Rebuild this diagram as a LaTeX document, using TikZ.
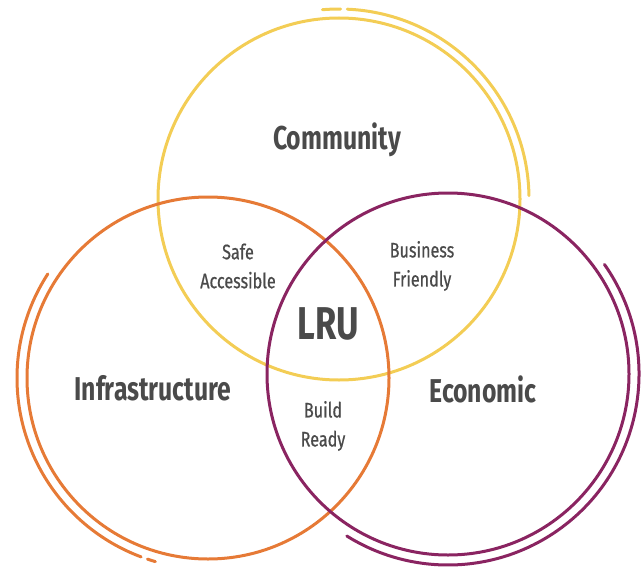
\documentclass[tikz,border=0pt]{standalone}
\usepackage{fontspec}
\setmainfont[FakeStretch=0.75]{Fira Sans}
\newfontfamily\overlapfont[FakeStretch=0.77,FakeBold=0.6]{Fira Sans}
\definecolor{commcol}{HTML}{F3CD55}
\definecolor{infracol}{HTML}{E67A36}
\definecolor{econcol}{HTML}{8A2461}
\definecolor{textcol}{HTML}{4A4A4A}
\tikzset{
  ring/.style={line width=3pt},
  outring/.style={line width=3pt,line cap=round},
  title/.style={text=textcol,font=\bfseries\fontsize{33}{36}\selectfont},
  overlap/.style={text=textcol,align=center,font=\overlapfont\fontsize{21}{29}\selectfont},
}
\begin{document}
\begin{tikzpicture}[x=1pt,y=1pt]
\useasboundingbox (0,0) rectangle (644,566);
\coordinate (comm) at (339,367);
\coordinate (infra) at (208,188);
\coordinate (econ) at (448,192);
% the three circles
\draw[ring,commcol] (comm) circle (181pt);
\draw[ring,infracol] (infra) circle (181pt);
\draw[ring,econcol] (econ) circle (181pt);
% outer arcs
\draw[outring,commcol] (comm) ++(95:190pt) arc[start angle=95,end angle=89.5,radius=190pt];
\draw[outring,commcol] (comm) ++(87.5:190pt) arc[start angle=87.5,end angle=1,radius=190pt];
\draw[outring,infracol] (infra) ++(147:191pt) arc[start angle=147,end angle=249.5,radius=191pt];
\draw[outring,infracol] (infra) ++(251.5:191pt) arc[start angle=251.5,end angle=254,radius=191pt];
\draw[outring,econcol] (econ) ++(35:191pt) arc[start angle=35,end angle=-122,radius=191pt];
% labels
\node[title] (commlabel) at (337,426) {Community};
\node[title] (infralabel) at (153,178) {Infrastructure};
\node[title] (econlabel) at (483,177) {Economic};
\node[title,font=\bfseries\fontsize{46}{50}\selectfont] (lru) at (328,242) {LRU};
\node[overlap] (safe) at (238,300) {Safe\\Accessible};
\node[overlap] (business) at (422,300) {Business\\Friendly};
\node[overlap] (build) at (323,140) {Build\\Ready};
\end{tikzpicture}
\end{document}
